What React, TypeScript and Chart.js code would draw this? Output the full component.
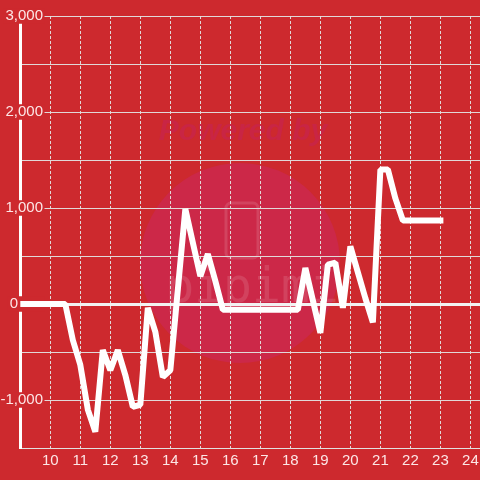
import { useEffect, useRef } from 'react';
import { Chart, registerables } from 'chart.js';

Chart.register(...registerables);

// ---- data ----
const hours = [9, 10.5, 10.75, 11, 11.25, 11.5, 11.75, 12, 12.25, 12.5, 12.75, 13, 13.25, 13.5, 13.75, 14, 14.5, 14.75, 15, 15.25, 15.5, 15.75, 18.25, 18.5, 19, 19.25, 19.5, 19.75, 20, 20.25, 20.5, 20.75, 21, 21.25, 21.5, 21.75, 23];
const values = [0, 0, -375, -635, -1100, -1330, -480, -690, -480, -740, -1070, -1050, -40, -290, -760, -690, 990, 640, 290, 520, 240, -60, -60, 375, -300, 410, 430, -40, 600, 330, 60, -190, 1400, 1400, 1100, 870, 870];
const xTickValues = [10, 11, 12, 13, 14, 15, 16, 17, 18, 19, 20, 21, 22, 23, 24];
const yLabelValues = [-1000, 0, 1000, 2000, 3000];

const RED = 'rgb(205,41,46)';
const GRID = 'rgba(225,225,225,0.95)';
const ZERO = '#f2f2f2';
const TXT = 'rgba(255,240,240,0.95)';
const FAMILY = '"Liberation Sans", Arial, sans-serif';

const watermark = {
  id: 'watermark',
  beforeDraw(chart: any) {
    const ctx = chart.ctx;
    ctx.save();
    ctx.fillStyle = 'rgb(204,40,72)';
    ctx.beginPath();
    ctx.arc(240, 263, 100, 0, Math.PI * 2);
    ctx.fill();
    ctx.font = 'bold italic 30px ' + FAMILY;
    ctx.fillStyle = 'rgb(201,37,68)';
    ctx.textAlign = 'center';
    ctx.textBaseline = 'middle';
    ctx.fillText('Powered by', 243, 132);
    ctx.strokeStyle = 'rgba(255,255,255,0.13)';
    ctx.lineWidth = 3;
    ctx.beginPath();
    (ctx as any).roundRect(226, 203, 32, 55, 5);
    ctx.stroke();
    ctx.font = '48px "DejaVu Sans Mono", monospace';
    ctx.fillStyle = 'rgba(255,255,255,0.12)';
    ctx.fillText('pipimi', 252, 290);
    ctx.restore();
  },
};

export default function App() {
  const ref = useRef<HTMLCanvasElement>(null);

  useEffect(() => {
    if (!ref.current) return;
    const chart = new Chart(ref.current, {
      type: 'line',
      data: {
        datasets: [
          {
            data: hours.map((h, i) => ({ x: h, y: values[i] })),
            borderColor: '#ffffff',
            borderWidth: 6,
            pointRadius: 0,
            tension: 0,
            borderCapStyle: 'square',
            borderJoinStyle: 'bevel',
            fill: false,
          },
        ],
      },
      options: {
        animation: false,
        responsive: false,
        devicePixelRatio: 1,
        layout: { padding: { top: 16, left: 0, right: 0, bottom: 0 } },
        plugins: { legend: { display: false }, tooltip: { enabled: false } },
        scales: {
          x: {
            type: 'linear',
            min: 9,
            max: 24.32,
            afterBuildTicks: (s: any) => {
              s.ticks = xTickValues.map((v) => ({ value: v }));
            },
            afterFit: (s: any) => {
              s.height = 32;
            },
            grid: { color: GRID, lineWidth: 1, drawTicks: false },
            border: { color: GRID, width: 1, dash: [3, 2] },
            ticks: {
              color: TXT,
              font: { family: FAMILY, size: 15, lineHeight: 1.73 },
              padding: 0,
              maxRotation: 0,
              autoSkip: false,
              callback: (v: any) => String(v),
            },
          },
          y: {
            type: 'linear',
            min: -1500,
            max: 3000,
            afterFit: (s: any) => {
              s.width = 20.3;
              s._computeLabelArea = () => undefined;
            },
            grid: {
              color: (c: any) => (c.tick && c.tick.value === 0 ? ZERO : GRID),
              lineWidth: (c: any) => (c.tick && c.tick.value === 0 ? 3 : 1),
              drawTicks: false,
            },
            border: { color: '#ffffff', width: 3 },
            ticks: {
              stepSize: 500,
              padding: -22.7,
              color: TXT,
              font: { family: FAMILY, size: 15, lineHeight: 0.9 },
              showLabelBackdrop: (c: any) => yLabelValues.includes(c.tick.value),
              backdropColor: RED,
              backdropPadding: { left: 2, right: 1.5, top: 1, bottom: 1 },
              callback: (v: any) => {
                const n = Number(v);
                if (!yLabelValues.includes(n)) return '';
                if (n === 0) return '0      ';
                return n.toLocaleString('en-US');
              },
            },
          },
        },
      },
      plugins: [watermark],
    } as any);
    return () => chart.destroy();
  }, []);

  return (
    <div style={{ position: 'fixed', left: 0, top: 0, width: 480, height: 480, background: RED, overflow: 'hidden' }}>
      <canvas ref={ref} width={480} height={480} style={{ display: 'block' }} />
    </div>
  );
}
